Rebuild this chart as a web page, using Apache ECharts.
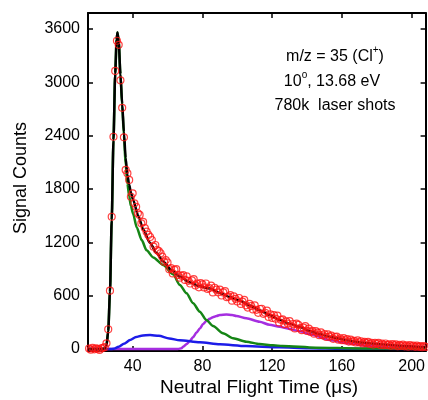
<!DOCTYPE html>
<html><head><meta charset="utf-8">
<script src="https://cdn.jsdelivr.net/npm/echarts@6/dist/echarts.min.js"></script>
<style>html,body{margin:0;padding:0;background:#fff}#c{width:428px;height:400px}</style>
</head><body><div id="c"></div>
<script>
// Measured data: one point per microsecond starting at 15 us
const dataStartUs = 15;
const signalCounts = [
  5,-8,12,-4,8,2,-10,6,14,20,
  64,222,656,1488,2388,3128,3468,3422,3023,2713,
  2381,2015,1977,1902,1713,1751,1639,1600,1527,1508,
  1414,1430,1360,1320,1283,1260,1226,1151,1170,1114,
  1100,1077,1040,982,1000,973,898,910,850,890,
  898,833,802,823,831,777,817,767,737,771,
  786,715,735,694,740,726,693,737,676,685,
  713,637,689,667,638,667,602,637,650,583,
  590,605,544,593,564,535,574,507,534,552,
  491,466,507,484,445,490,441,407,450,453,
  396,408,431,360,390,350,382,341,376,299,
  328,333,279,311,286,313,255,281,231,285,
  271,235,212,241,258,203,230,191,204,172,
  202,184,156,188,154,169,136,165,138,151,
  114,135,139,105,121,99,122,97,110,83,
  106,83,92,73,96,74,87,63,80,66,
  80,56,70,50,70,56,68,45,61,44,
  62,43,51,36,55,40,51,32,47,34,
  49,30,41,26,43,30,39,24,39,24,
  33,21,34,24
];

// Total fit (black)
const totalFitX = [14.4,23,24,25,26,27,28,29,30,30.8,31.3,32,33,34,35,36,37,38,39,40.3,43.2,46.1,49.9,53.7,57.5,62.3,67.1,72.8,78.5,84.2,90,95.7,101.4,107.1,112.8,118.5,124.3,130,135.7,141.4,147,152.9,158.6,164.4,170,175.8,181.5,187.2,195,203,208];
const totalFitY = [0,0,5,40,200,640,1450,2350,3100,3480,3560,3460,3090,2760,2440,2150,1960,1850,1760,1676,1500,1345,1195,1080,985,889,815,750,705,680,630,585,545,488,437,382,328,283,250,203,168,138,114,93,77,64,54,45,34,26,22];

// Fast component (green)
const fastX = [14.4,23,24,25,26,27,28,29,30,30.8,31.3,32,33,34,35,36,37,38,39,40.3,42.3,45.2,48,51.8,57.5,63.2,67.1,70.9,74.7,78.5,82.3,86.1,91.8,97.6,105.2,112.8,120.5,126,145,170,208];
const fastY = [0,0,5,40,200,640,1450,2350,3100,3480,3560,3460,3090,2740,2400,2070,1860,1720,1610,1520,1370,1225,1110,1030,945,840,720,627,514,420,326,259,177,120,82,56,42,34,15,7,3];

// Slow component (blue)
const slowX = [14.4,27,29,32,35,38.5,42,45,50,55,61,67,78.5,90,105,124,141,160,208];
const slowY = [0,0,2,25,60,100,135,150,157,148,118,98,75,53,34,19,9,4,1];

// Late component (purple)
const lateX = [14.4,66,68,69,71,72.8,74.7,76.6,78.5,80.4,82.3,84.2,86,88.1,90,93.8,97,99.5,105.2,112.8,118.5,124.3,130,135.7,141.4,152.9,164.4,175.8,187.2,198,208];
const lateY = [0,0,8,26,55,90,135,185,230,280,315,340,358,371,382,388,382,371,345,307,272,250,225,200,170,101,62,34,17,9,5];

const xTicks = [40,80,120,160,200];
const yTicks = [0,600,1200,1800,2400,3000,3600];

const FONT = '"Liberation Sans", Arial, Helvetica, sans-serif';
const pairs = (xs, ys) => xs.map((x, i) => [x, ys[i]]);
const measured = signalCounts.map((v, i) => [dataStartUs + i, v]);

const chart = echarts.init(document.getElementById('c'), null, {renderer: 'canvas'});
const axisLine = {show: true, onZero: false, lineStyle: {color: '#000', width: 2}};
const tickStyle = {color: '#000', width: 1.5};
const plain = v => String(v);
const lineSeries = (xs, ys, color, z) => ({
  type: 'line', data: pairs(xs, ys), showSymbol: false, symbol: 'none',
  smooth: 0.25, smoothMonotone: 'x', clip: true, z: z,
  lineStyle: {color: color, width: 2.5}
});
const richText = {
  n: {fontSize: 16, fontFamily: FONT, lineHeight: 20, fill: '#000', verticalAlign: 'bottom'},
  sup: {fontSize: 10, fontFamily: FONT, lineHeight: 10, fill: '#000', verticalAlign: 'top'}
};
const textAlignCfg = {textAlign: 'center', textVerticalAlign: 'middle', align: 'center', verticalAlign: 'middle'};

chart.setOption({
  animation: false,
  backgroundColor: '#fff',
  grid: {left: 88, right: 2, top: 13, bottom: 49, containLabel: false},
  xAxis: [
    {type: 'value', min: 14.4, max: 208, position: 'bottom', axisLine: axisLine,
     axisTick: {show: true, inside: true, length: 5, customValues: xTicks, lineStyle: tickStyle},
     axisLabel: {customValues: xTicks, formatter: plain, fontSize: 16, color: '#000', margin: 8, fontFamily: FONT},
     splitLine: {show: false}},
    {type: 'value', min: 14.4, max: 208, position: 'top', axisLine: axisLine,
     axisTick: {show: true, inside: true, length: 5, customValues: xTicks, lineStyle: tickStyle},
     axisLabel: {show: false}, splitLine: {show: false}}
  ],
  yAxis: [
    {type: 'value', min: -22.5, max: 3780, position: 'left', axisLine: axisLine,
     axisTick: {show: true, inside: true, length: 5, customValues: yTicks, lineStyle: tickStyle},
     axisLabel: {customValues: yTicks, formatter: plain, fontSize: 16, color: '#000', margin: 8, fontFamily: FONT},
     splitLine: {show: false}},
    {type: 'value', min: -22.5, max: 3780, position: 'right', axisLine: axisLine,
     axisTick: {show: true, inside: true, length: 5, customValues: yTicks, lineStyle: tickStyle},
     axisLabel: {show: false}, splitLine: {show: false}}
  ],
  series: [
    lineSeries(lateX, lateY, '#a52ee0', 2),
    lineSeries(slowX, slowY, '#1c1ce8', 3),
    lineSeries(fastX, fastY, '#158515', 4),
    lineSeries(totalFitX, totalFitY, '#000000', 5),
    {type: 'scatter', data: measured, symbol: 'circle', symbolSize: 7, z: 6, clip: true,
     itemStyle: {color: 'rgba(0,0,0,0)', borderColor: '#ff1414', borderWidth: 1.2}}
  ],
  graphic: [
    {type: 'text', x: 259, y: 388, z: 10,
     style: Object.assign({text: 'Neutral Flight Time (\u03bcs)', fill: '#000', font: '19px ' + FONT}, textAlignCfg)},
    {type: 'text', x: 21, y: 178, rotation: Math.PI / 2, z: 10,
     style: Object.assign({text: 'Signal Counts', fill: '#000', font: '18px ' + FONT}, textAlignCfg)},
    {type: 'text', x: 335, y: 55, z: 10,
     style: Object.assign({text: '{n|m/z = 35 (Cl}{sup|+}{n|)}', fill: '#000', font: '16px ' + FONT, rich: richText}, textAlignCfg)},
    {type: 'text', x: 332, y: 80, z: 10,
     style: Object.assign({text: '{n|10}{sup|o}{n|, 13.68 eV}', fill: '#000', font: '16px ' + FONT, rich: richText}, textAlignCfg)},
    {type: 'text', x: 335, y: 106, z: 10,
     style: Object.assign({text: '780k  laser shots', fill: '#000', font: '16px ' + FONT}, textAlignCfg)}
  ]
});
</script>
</body></html>
